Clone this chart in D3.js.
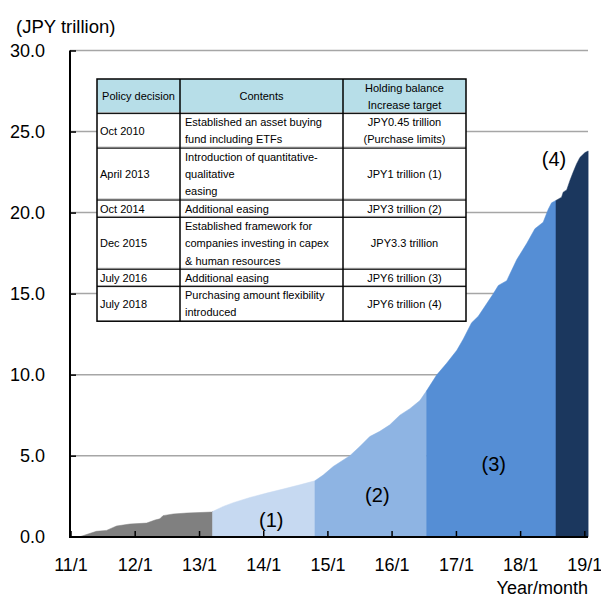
<!DOCTYPE html>
<html>
<head>
<meta charset="utf-8">
<script src="https://cdn.jsdelivr.net/npm/d3@7"></script>
<style>
body { margin: 0; background: #fff; }
text { font-family: Arial, "Liberation Sans", sans-serif; fill: #000; }
</style>
</head>
<body>
<div id="chart"></div>
<script>
// cumulative ETF holdings, JPY trillion
const dates = [
  "2011-02-23","2011-05-28","2011-07-25","2011-09-20","2011-12-04","2012-03-09","2012-04-26",
  "2012-05-23","2012-06-10","2012-08-07","2012-10-23","2013-03-14","2013-03-19",
  "2013-05-19","2013-07-15","2013-10-18","2014-01-21","2014-04-24","2014-07-28","2014-10-22",
  "2014-12-08","2015-02-03","2015-05-09","2015-07-04","2015-08-30","2015-10-26","2015-12-22",
  "2016-02-17","2016-04-14","2016-06-10","2016-07-18",
  "2016-09-13","2016-11-09","2017-01-06","2017-02-12","2017-03-31","2017-05-08","2017-08-02",
  "2017-08-30","2017-10-17","2017-12-13","2018-02-08","2018-03-26","2018-05-12","2018-06-10",
  "2018-06-29","2018-07-24",
  "2018-08-25","2018-09-03","2018-09-23","2018-10-12","2018-10-30","2018-11-18","2018-12-07",
  "2019-01-05","2019-01-23"
];
const holdings = [
  0.00, 0.33, 0.39, 0.66, 0.78, 0.84, 1.03,
  1.10, 1.30, 1.40, 1.46, 1.52, 1.55,
  1.87, 2.10, 2.42, 2.69, 2.94, 3.20, 3.45,
  3.80, 4.33, 5.00, 5.56, 6.18, 6.50, 6.90,
  7.50, 7.90, 8.40, 9.00,
  9.97, 10.7, 11.5, 12.2, 13.2, 13.6, 15.0,
  15.5, 15.8, 17.1, 18.1, 19.0, 19.4, 20.2,
  20.6, 20.75,
  20.95, 21.26, 21.4, 22.0, 22.5, 23.0, 23.4,
  23.7, 23.8
];
const phaseStarts = ["2011-02-23","2013-03-19","2014-10-22","2016-07-18","2018-07-24"];
const phaseEnd = "2019-01-23";
const phaseColors = ["#808080","#c6d9f1","#8eb4e3","#558ed5","#1b375e"];
const phaseLabels = ["","(1)","(2)","(3)","(4)"];
const labelDates = [null,"2014-02-16","2015-10-12","2017-08-04","2018-07-13"];
const labelValues = [null,1.03,2.57,4.5,23.3];

const yTicks = [0,5,10,15,20,25,30];
const xTicks = ["2011-01-01","2012-01-01","2013-01-01","2014-01-01","2015-01-01",
  "2016-01-01","2017-01-01","2018-01-01","2019-01-01"];

// table
const headCells = [["Policy decision"],["Contents"],["Holding balance","Increase target"]];
const decisions = ["Oct 2010","April 2013","Oct 2014","Dec 2015","July 2016","July 2018"];
const contents = [
  ["Established an asset buying","fund including ETFs"],
  ["Introduction of quantitative-","qualitative","easing"],
  ["Additional easing"],
  ["Established framework for","companies investing in capex","& human resources"],
  ["Additional easing"],
  ["Purchasing amount flexibility","introduced"]
];
const targets = [
  ["JPY0.45 trillion","(Purchase limits)"],
  ["JPY1 trillion (1)"],
  ["JPY3 trillion (2)"],
  ["JPY3.3 trillion"],
  ["JPY6 trillion (3)"],
  ["JPY6 trillion (4)"]
];

const width = 601, height = 599;
const parse = d3.timeParse("%Y-%m-%d");
const plotRight = 588;

const x = d3.scaleTime()
  .domain([parse("2011-01-01"), parse("2019-01-01")])
  .range([70.5, 584.3]);
const y = d3.scaleLinear().domain([0, 30]).range([536.7, 50.5]);

const svg = d3.select("#chart").append("svg")
  .attr("width", width)
  .attr("height", height);

const pts = dates.map((d, i) => ({date: parse(d), v: holdings[i]}));

// gridlines
svg.append("g").selectAll("line").data(yTicks.slice(1)).join("line")
  .attr("x1", 70).attr("x2", plotRight)
  .attr("y1", d => y(d)).attr("y2", d => y(d))
  .attr("stroke", "#a6a6a6")
  .attr("stroke-width", 1.5);

// filled phases
const area = d3.area().x(d => x(d.date)).y0(y(0)).y1(d => y(d.v));
phaseStarts.forEach((s, i) => {
  const a = parse(s);
  const b = parse(i + 1 < phaseStarts.length ? phaseStarts[i + 1] : phaseEnd);
  const seg = pts.filter(p => p.date >= a && p.date <= b);
  svg.append("path").datum(seg)
    .attr("d", area)
    .attr("fill", phaseColors[i])
    .attr("stroke", phaseColors[i])
    .attr("stroke-width", 0.5);
});

// phase labels
svg.append("g").selectAll("text").data(d3.range(1, phaseLabels.length)).join("text")
  .attr("x", i => x(parse(labelDates[i])))
  .attr("y", i => y(labelValues[i]))
  .attr("dy", "0.35em")
  .attr("text-anchor", "middle")
  .style("font-size", "20px")
  .text(i => phaseLabels[i]);

// axes
const yAxis = d3.axisLeft(y).tickValues(yTicks).tickSize(-6).tickSizeOuter(0)
  .tickPadding(25).tickFormat(d3.format(".1f"));
const gy = svg.append("g").attr("transform", "translate(70,0)").call(yAxis);
gy.select(".domain").remove();
gy.selectAll("line").attr("stroke", "#000").attr("stroke-width", 1.5);
gy.selectAll("text").style("font-size", "18px").attr("font-family", null);

const xAxis = d3.axisBottom(x).tickValues(xTicks.map(parse)).tickSize(-6).tickSizeOuter(0)
  .tickPadding(21).tickFormat(d3.timeFormat("%y/%-m"));
const gx = svg.append("g").attr("transform", "translate(0,537)").call(xAxis);
gx.select(".domain").remove();
gx.selectAll("line").attr("stroke", "#000").attr("stroke-width", 1.5);
gx.selectAll("text").style("font-size", "18px").attr("font-family", null);

svg.append("line").attr("x1", 70).attr("x2", 70).attr("y1", y(30)).attr("y2", 538)
  .attr("stroke", "#000").attr("stroke-width", 2);
svg.append("line").attr("x1", 69).attr("x2", plotRight).attr("y1", 537).attr("y2", 537)
  .attr("stroke", "#000").attr("stroke-width", 2);

svg.append("text").attr("x", 16).attr("y", 33).style("font-size", "18.5px").text("(JPY trillion)");
svg.append("text").attr("x", plotRight).attr("y", 594).attr("text-anchor", "end")
  .style("font-size", "18px").text("Year/month");

// policy table
const tb = {left: 97, right: 466, top: 79, lineH: 17.3, cols: [97, 180, 343, 466]};
const rows = [{cells: headCells, head: true}].concat(decisions.map((d, i) => ({
  cells: [[d], contents[i], targets[i]], head: false
})));
let ty = tb.top;
rows.forEach(r => {
  r.n = d3.max(r.cells, c => c.length);
  if (r.head) r.n = 2;
  r.y0 = ty;
  r.y1 = ty + r.n * tb.lineH;
  ty = r.y1;
});
const tbl = svg.append("g");
tbl.append("rect").attr("x", tb.left).attr("y", tb.top)
  .attr("width", tb.right - tb.left).attr("height", ty - tb.top).attr("fill", "#fff");
tbl.append("rect").attr("x", tb.left).attr("y", rows[0].y0)
  .attr("width", tb.right - tb.left).attr("height", rows[0].y1 - rows[0].y0).attr("fill", "#b7dee8");
rows.slice(1).forEach(r => {
  tbl.append("line").attr("x1", tb.left).attr("x2", tb.right).attr("y1", r.y0 - 1).attr("y2", r.y0 - 1)
    .attr("stroke", "#999").attr("stroke-width", 1);
  tbl.append("line").attr("x1", tb.left).attr("x2", tb.right).attr("y1", r.y0).attr("y2", r.y0)
    .attr("stroke", "#000").attr("stroke-width", 1);
});
tb.cols.slice(1, 3).forEach(cx => {
  tbl.append("line").attr("x1", cx).attr("x2", cx).attr("y1", tb.top).attr("y2", ty)
    .attr("stroke", "#000").attr("stroke-width", 1.5);
});
tbl.append("rect").attr("x", tb.left).attr("y", tb.top)
  .attr("width", tb.right - tb.left).attr("height", ty - tb.top)
  .attr("fill", "none").attr("stroke", "#000").attr("stroke-width", 1.5);

rows.forEach(r => {
  r.cells.forEach((lines, ci) => {
    const centered = r.head || ci === 2;
    const tx = centered ? (tb.cols[ci] + tb.cols[ci + 1]) / 2 : tb.cols[ci] + (ci === 0 ? 3 : 5);
    const yMid = (r.y0 + r.y1) / 2;
    lines.forEach((s, li) => {
      tbl.append("text")
        .attr("x", tx)
        .attr("y", yMid + (li - (lines.length - 1) / 2) * tb.lineH)
        .attr("dy", "0.35em")
        .attr("text-anchor", centered ? "middle" : "start")
        .style("font-size", "11px")
        .text(s);
    });
  });
});
</script>
</body>
</html>
